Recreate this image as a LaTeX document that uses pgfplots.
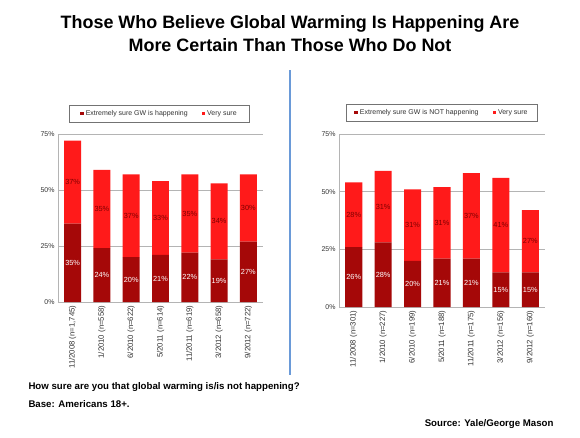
\documentclass[border=0pt]{standalone}
\usepackage{pgfplots}
\pgfplotsset{compat=1.18}
\usepackage{fontspec}
\setmainfont{Liberation Sans}
\definecolor{dred}{HTML}{A50808}
\definecolor{bred}{HTML}{FF1A1A}
\definecolor{lblred}{HTML}{800000}
\definecolor{divblue}{HTML}{6A9AD8}
\definecolor{gridgray}{HTML}{B4B4B4}

\pgfplotsset{
 mybars/.style={
  ybar stacked, scale only axis,
  xmin=-0.5, xmax=6.5, ymin=0, ymax=75,
  bar width=0.58,
  ytick={0,25,50,75},
  yticklabel={\pgfmathprintnumber{\tick}\%},
  xtick={0,...,6},
  x tick label style={rotate=90, anchor=east, font=\fontsize{7.8}{9}\selectfont, text=black!80},
  y tick label style={font=\fontsize{7}{8}\selectfont, text=black!80},
  /pgf/number format/assume math mode=true,
  axis x line*=bottom, axis y line*=left,
  axis line style={gridgray, line width=0.8bp},
  ymajorgrids, grid style={gridgray, line width=0.8bp},
  major tick style={draw=none},
  legend columns=2,
  legend style={anchor=center, draw=gray!90!black, line width=0.8bp,
    font=\fontsize{7}{8}\selectfont, text=black!80, inner xsep=11bp, inner ysep=3bp,
    /tikz/every even column/.append style={column sep=12bp}},
  legend image code/.code={\fill[##1,draw=none] (0bp,-1.2bp) rectangle (3.5bp,2.3bp);},
  visualization depends on={rawy \as \rawy},
  nodes near coords={\pgfmathprintnumber{\rawy}\%},
  nodes near coords style={font=\fontsize{7.4}{8}\selectfont, anchor=center},
 },
}

\begin{document}
\begin{tikzpicture}
\path[use as bounding box] (0,0) rectangle (580bp,-438bp);

\node[anchor=base, font=\bfseries\fontsize{18}{21}\selectfont] at (290bp,-28bp) {Those Who Believe Global Warming Is Happening Are};
\node[anchor=base, font=\bfseries\fontsize{18}{21}\selectfont] at (290bp,-51bp) {More Certain Than Those Who Do Not};

\draw[divblue, line width=1.5bp] (290bp,-70bp) -- (290bp,-375bp);

% Left chart
\begin{axis}[mybars, at={(58bp,-302bp)}, anchor=south west, width=205bp, height=168bp,
  xticklabels={11/2008 (n=1{,}745), 1/2010 (n=558), 6/2010 (n=622), 5/2011 (n=614), 11/2011 (n=619), 3/2012 (n=658), 9/2012 (n=722)},
  legend style={at={(0.495,1.119)}}]
\addplot[fill=dred, draw=none, every node near coord/.append style={text=white}] coordinates {(0,35) (1,24) (2,20) (3,21) (4,22) (5,19) (6,27)};
\addplot[fill=bred, draw=none, every node near coord/.append style={text=lblred}] coordinates {(0,37) (1,35) (2,37) (3,33) (4,35) (5,34) (6,30)};
\legend{Extremely sure GW is happening, Very sure}
\end{axis}

% Right chart
\begin{axis}[mybars, at={(339bp,-307bp)}, anchor=south west, width=206bp, height=173bp,
  xticklabels={11/2008 (n=301), 1/2010 (n=227), 6/2010 (n=199), 5/2011 (n=188), 11/2011 (n=175), 3/2012 (n=156), 9/2012 (n=160)},
  legend style={at={(0.50,1.121)}, inner xsep=8bp}]
\addplot[fill=dred, draw=none, every node near coord/.append style={text=white}] coordinates {(0,26) (1,28) (2,20) (3,21) (4,21) (5,15) (6,15)};
\addplot[fill=bred, draw=none, every node near coord/.append style={text=lblred}] coordinates {(0,28) (1,31) (2,31) (3,31) (4,37) (5,41) (6,27)};
\legend{Extremely sure GW is NOT happening, Very sure}
\end{axis}

\node[anchor=base west, font=\bfseries\fontsize{9.7}{11}\selectfont] at (25bp,-389bp) {How sure are you that global warming is/is not happening?};
\node[anchor=base west, font=\bfseries\fontsize{9.7}{11}\selectfont] at (25bp,-407bp) {Base: Americans 18+.};
\node[anchor=base east, font=\bfseries\fontsize{9.7}{11}\selectfont] at (557bp,-426bp) {Source: Yale/George Mason};
\end{tikzpicture}
\end{document}
